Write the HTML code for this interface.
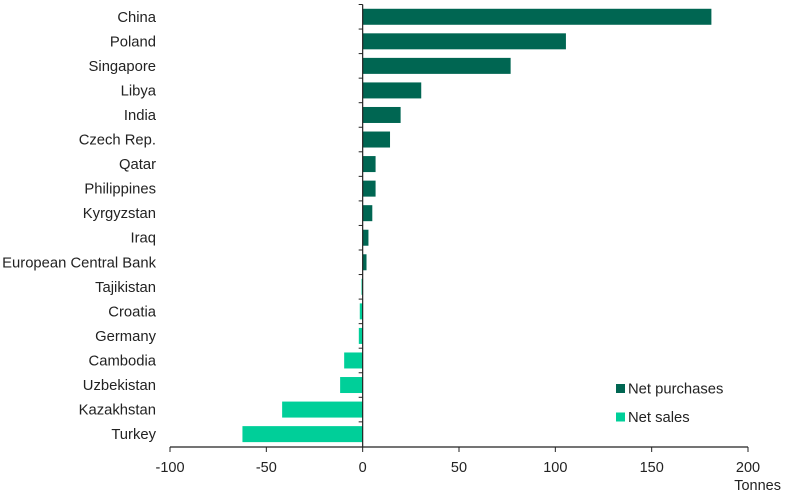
<!DOCTYPE html>
<html><head><meta charset="utf-8"><style>
body{margin:0;background:#fff;}
svg{display:block;font-family:"Liberation Sans","DejaVu Sans",sans-serif;}
</style></head><body>
<svg id="c" width="785" height="496"></svg>
<script>
const categories=["China","Poland","Singapore","Libya","India","Czech Rep.","Qatar","Philippines","Kyrgyzstan","Iraq","European Central Bank","Tajikistan","Croatia","Germany","Cambodia","Uzbekistan","Kazakhstan","Turkey"];
const values=[181,105.5,76.8,30.4,19.7,14.2,6.7,6.7,5,3,2,-0.6,-1.5,-2,-9.6,-11.7,-41.8,-62.4];
const xTicks=[-100,-50,0,50,100,150,200];
const NS="http://www.w3.org/2000/svg";
const svg=document.getElementById('c');
const x0=170,x1=748,vmin=-100,vmax=200;
const xs=v=>x0+(v-vmin)/(vmax-vmin)*(x1-x0);
const yTop=4.5,pitch=24.55,barH=16;
const yc=i=>yTop+pitch*(i+0.5);
function mk(t,a){const e=document.createElementNS(NS,t);for(const k in a)e.setAttribute(k,a[k]);svg.appendChild(e);return e;}
const dark="#006652",light="#00cf99";
categories.forEach((c,i)=>{
  const v=values[i];
  const r=mk('rect',{x:Math.min(xs(0),xs(v)),y:yc(i)-barH/2,width:Math.abs(xs(v)-xs(0)),height:barH,fill:v>=0?dark:light});
  
  
  const t=mk('text',{x:156,y:yc(i)+5,'text-anchor':'end','font-size':14.8,fill:'#222'});
  t.textContent=c;
  
  
});
const axisY=447;
const ya=mk('line',{x1:xs(0),x2:xs(0),y1:yTop,y2:axisY,stroke:'#222','stroke-width':1.2});


for(let i=0;i<categories.length;i++){
  const tk=mk('line',{x1:xs(0)-4,x2:xs(0),y1:yTop+pitch*i,y2:yTop+pitch*i,stroke:'#222','stroke-width':1});
  
  
}
const xa=mk('line',{x1:x0,x2:x1,y1:axisY,y2:axisY,stroke:'#222','stroke-width':1.2});


xTicks.forEach(v=>{
  const tk=mk('line',{x1:xs(v),x2:xs(v),y1:axisY,y2:axisY+5,stroke:'#222','stroke-width':1});
  
  
  const t=mk('text',{x:xs(v),y:axisY+25,'text-anchor':'middle','font-size':14.5,fill:'#222'});
  t.textContent=v;
  
  
});
const ut=mk('text',{x:781,y:490,'text-anchor':'end','font-size':14.5,fill:'#222'});
ut.textContent='Tonnes';


[["Net purchases",dark,388.5],["Net sales",light,417]].forEach(([n,col,y])=>{
  const s=mk('rect',{x:616,y:y-4.5,width:9,height:9,fill:col});
  
  
  const t=mk('text',{x:628,y:y+5,'font-size':14.8,fill:'#222'});
  t.textContent=n;
  
  
});
</script>
</body></html>
